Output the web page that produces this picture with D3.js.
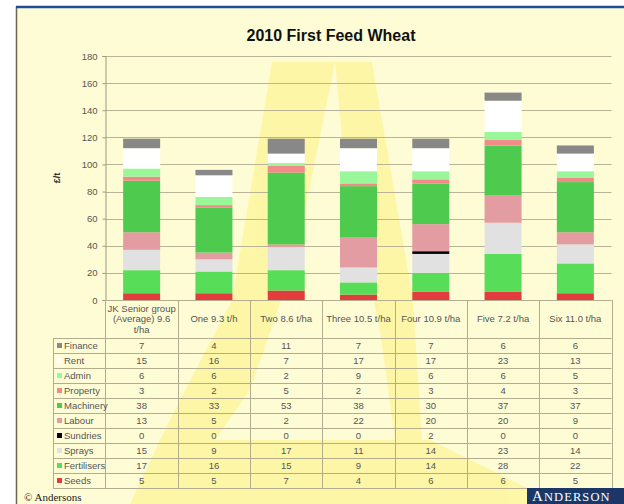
<!DOCTYPE html>
<html><head><meta charset="utf-8">
<script src="https://cdn.jsdelivr.net/npm/d3@7"></script>
<style>
html,body{margin:0;padding:0;background:#fff;}
svg{display:block;font-family:"Liberation Sans",Arial,sans-serif;}
</style></head>
<body>
<svg id="c" width="624" height="504"></svg>
<script>
// ---- data ----
const categories = ["JK Senior group (Average) 9.6 t/ha", "One 9.3 t/h", "Two 8.6 t/ha", "Three 10.5 t/ha", "Four 10.9 t/ha", "Five 7.2 t/ha", "Six 11.0 t/ha"];
// table order (top to bottom)
const seriesNames = ["Finance", "Rent", "Admin", "Property", "Machinery", "Labour", "Sundries", "Sprays", "Fertilisers", "Seeds"];
const finance     = [7, 4, 11, 7, 7, 6, 6];
const rent        = [15, 16, 7, 17, 17, 23, 13];
const admin       = [6, 6, 2, 9, 6, 6, 5];
const property    = [3, 2, 5, 2, 3, 4, 3];
const machinery   = [38, 33, 53, 38, 30, 37, 37];
const labour      = [13, 5, 2, 22, 20, 20, 9];
const sundries    = [0, 0, 0, 0, 2, 0, 0];
const sprays      = [15, 9, 17, 11, 14, 23, 14];
const fertilisers = [17, 16, 15, 9, 14, 28, 22];
const seeds       = [5, 5, 7, 4, 6, 6, 5];
const yTicks = [0, 20, 40, 60, 80, 100, 120, 140, 160, 180];
const title = "2010 First Feed Wheat";
const yLabel = "£/t";

const seriesValues = [finance, rent, admin, property, machinery, labour, sundries, sprays, fertilisers, seeds];
const colors = {
  Finance: "#888888", Rent: "#ffffff", Admin: "#99f799", Property: "#f28a8a",
  Machinery: "#4ecb4e", Labour: "#e39ca1", Sundries: "#000000", Sprays: "#e1e1e1",
  Fertilisers: "#57dd57", Seeds: "#e33c3c"
};

const svg = d3.select("#c");
const W = 624, H = 504;

// ---- frame & background ----
svg.append("rect").attr("x", 16).attr("y", 6).attr("width", W - 16).attr("height", H - 6).attr("fill", "#fefcd5");

// watermark "A"
const wm = svg.append("g").attr("fill", "#fff59c").attr("opacity", 0.8);
wm.append("polygon").attr("points", "272,62 335,62 295,260 250,390 215,440 160,440 180,400 232,300");
wm.append("polygon").attr("points", "335,62 372,62 413,300 422,440 395,440 380,330 345,170");
wm.append("polygon").attr("points", "160,440 430,440 560,504 130,504");

svg.append("line").attr("x1", 16.5).attr("x2", 16.5).attr("y1", 6).attr("y2", H).attr("stroke", "#6d6650").attr("stroke-width", 1.5);
svg.append("line").attr("x1", 16).attr("x2", W).attr("y1", 7).attr("y2", 7).attr("stroke", "#1f4e9a").attr("stroke-width", 2.5);

// ---- title ----
svg.append("text").attr("x", 331).attr("y", 41).attr("text-anchor", "middle")
  .attr("font-size", 16).attr("font-weight", "bold").attr("fill", "#111").text(title);

// ---- scales ----
const plotL = 105.5, plotR = 611.5, plotT = 56, plotB = 300;
const x = d3.scaleBand().domain(categories).range([plotL, plotR]).paddingInner(0).paddingOuter(0);
const y = d3.scaleLinear().domain([0, 180]).range([plotB, plotT]);
const barW = 37;

// gridlines
svg.append("g").selectAll("line").data(yTicks.filter(d => d > 0)).join("line")
  .attr("x1", plotL).attr("x2", plotR)
  .attr("y1", d => Math.round(y(d)) + 0.5).attr("y2", d => Math.round(y(d)) + 0.5)
  .attr("stroke", "#b9b498").attr("stroke-width", 1);

// y axis
const yAxis = d3.axisLeft(y).tickValues(yTicks).tickSize(3).tickPadding(5);
const ya = svg.append("g").attr("transform", `translate(${plotL},0)`).call(yAxis);
ya.select(".domain").attr("stroke", "#9c977e");
ya.selectAll(".tick line").attr("stroke", "#9c977e");
ya.selectAll(".tick text").attr("font-size", 9.5).attr("fill", "#555").attr("font-family", "Liberation Sans, Arial, sans-serif");

svg.append("text").attr("transform", "translate(60,178) rotate(-90)").attr("text-anchor", "middle")
  .attr("font-size", 9).attr("font-weight", "bold").attr("fill", "#333").text(yLabel);

// ---- stacked bars ----
const rows = categories.map((c, i) => {
  const o = { cat: c };
  seriesNames.forEach((s, k) => o[s] = seriesValues[k][i]);
  return o;
});
const stackOrder = seriesNames.slice().reverse(); // bottom to top: Seeds ... Finance
const stacked = d3.stack().keys(stackOrder)(rows);
svg.append("g").selectAll("g").data(stacked).join("g")
  .attr("fill", d => colors[d.key])
  .selectAll("rect").data(d => d).join("rect")
  .attr("x", d => x(d.data.cat) + (x.bandwidth() - barW) / 2)
  .attr("width", barW)
  .attr("y", d => y(d[1]))
  .attr("height", d => y(d[0]) - y(d[1]));

// ---- data table ----
const tblL = 53, headT = 300, headB = 338, rowH = 15;
const tblB = headB + rowH * seriesNames.length;
const gridC = "#b3ac8e";
const tg = svg.append("g");
tg.append("line").attr("x1", plotL).attr("x2", plotR).attr("y1", headT + 0.5).attr("y2", headT + 0.5).attr("stroke", gridC);
d3.range(seriesNames.length + 1).forEach(i => {
  const yy = headB + i * rowH + 0.5;
  tg.append("line").attr("x1", tblL).attr("x2", plotR).attr("y1", yy).attr("y2", yy).attr("stroke", gridC);
});
tg.append("line").attr("x1", tblL + 0.5).attr("x2", tblL + 0.5).attr("y1", headB).attr("y2", tblB).attr("stroke", gridC);
categories.forEach(c => {
  const xx = Math.round(x(c)) + 0.5;
  tg.append("line").attr("x1", xx).attr("x2", xx).attr("y1", headT).attr("y2", tblB).attr("stroke", gridC);
});
tg.append("line").attr("x1", Math.round(plotR) + 0.5).attr("x2", Math.round(plotR) + 0.5).attr("y1", headT).attr("y2", tblB).attr("stroke", gridC);

// header labels (wrapped)
categories.forEach(c => {
  const cx = x(c) + x.bandwidth() / 2;
  const t = tg.append("text").attr("x", cx).attr("text-anchor", "middle").attr("font-size", 9.5).attr("fill", "#555");
  const words = c.split(" ");
  let lines = [], cur = [];
  words.forEach(w => {
    cur.push(w);
    t.text(cur.join(" "));
    if (t.node().getComputedTextLength() > 70 && cur.length > 1) {
      cur.pop(); lines.push(cur.join(" ")); cur = [w];
    }
  });
  lines.push(cur.join(" "));
  t.text(null);
  const lh = 10.2;
  const y0 = (headT + headB) / 2 - (lines.length - 1) * lh / 2 + 3.3;
  lines.forEach((l, i) => t.append("tspan").attr("x", cx).attr("y", y0 + i * lh).text(l));
});

// rows
seriesNames.forEach((s, k) => {
  const cy = headB + k * rowH + rowH / 2;
  tg.append("rect").attr("x", 57).attr("y", cy - 2.5).attr("width", 5).attr("height", 5).attr("fill", colors[s]);
  tg.append("text").attr("x", 64).attr("y", cy + 3.5).attr("font-size", 9.5).attr("fill", "#555").text(s);
  seriesValues[k].forEach((v, i) => {
    tg.append("text").attr("x", x(categories[i]) + x.bandwidth() / 2).attr("y", cy + 3.5)
      .attr("text-anchor", "middle").attr("font-size", 9.5).attr("fill", "#555").text(v);
  });
});

// ---- footer ----
svg.append("text").attr("x", 24).attr("y", 500.5).attr("font-size", 11)
  .attr("font-family", "Liberation Serif, serif").attr("fill", "#222").text("© Andersons");
svg.append("rect").attr("x", 527).attr("y", 488).attr("width", W - 527).attr("height", H - 488).attr("fill", "#1b3768");
const lg = svg.append("text").attr("x", 532).attr("y", 500.5).attr("font-family", "Liberation Serif, serif").attr("fill", "#fff").attr("letter-spacing", 1.1);
lg.append("tspan").attr("font-size", 15).text("A");
lg.append("tspan").attr("font-size", 12.5).text("NDERSON");
</script>
</body></html>
